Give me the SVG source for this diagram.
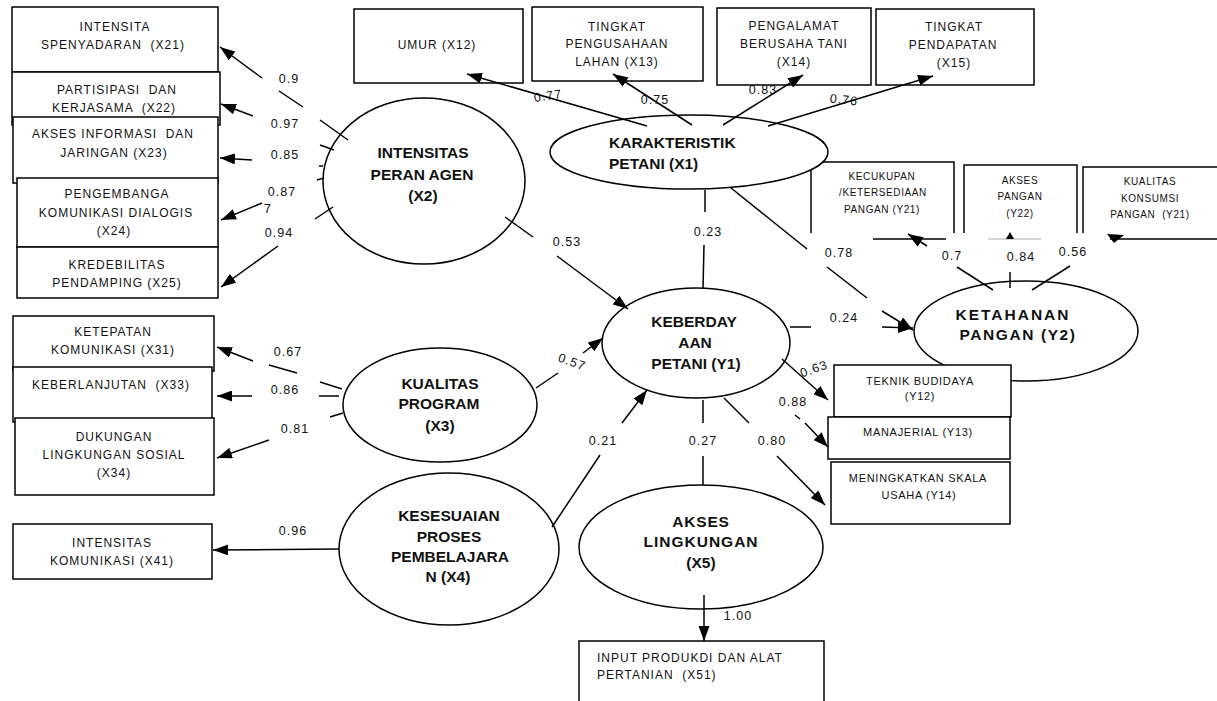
<svg xmlns="http://www.w3.org/2000/svg" width="1217" height="701" viewBox="0 0 1217 701">
<defs>
<marker id="ah" markerUnits="userSpaceOnUse" markerWidth="15" markerHeight="11" refX="15" refY="5.5" orient="auto" viewBox="0 0 15 11">
<path d="M0,0 L15,5.5 L0,11 z" fill="#000"/>
</marker>
</defs>
<style>
text { white-space: pre; font-family: "Liberation Sans", Arial, sans-serif; fill: #111; }
.box { fill: #fff; stroke: #000; stroke-width: 1.5; }
.ell { fill: #fff; stroke: #000; stroke-width: 1.5; }
.open { fill: none; stroke: #000; stroke-width: 1.5; }
.ln { stroke: #000; stroke-width: 1.5; fill: none; }
.arr { marker-end: url(#ah); }
.t { font-size: 12px; letter-spacing: 1px; text-anchor: middle; }
.tm { font-size: 11px; letter-spacing: 0.7px; text-anchor: middle; }
.ts { font-size: 10px; letter-spacing: 0.6px; text-anchor: middle; }
.b { font-size: 15.5px; font-weight: bold; text-anchor: middle; }
.lbl { font-size: 12.5px; letter-spacing: 1px; text-anchor: middle; }
</style>
<rect width="1217" height="701" fill="#fff"/>

<g id="nodes">
<g id="X21"><rect class="box" x="12" y="7" width="206" height="65"/>
<text class="t" x="115" y="31">INTENSITA</text><text class="t" x="113" y="49">SPENYADARAN  (X21)</text></g>
<g id="X22"><rect class="box" x="12" y="72" width="208" height="53"/>
<text class="t" x="117" y="94">PARTISIPASI  DAN</text><text class="t" x="114" y="112">KERJASAMA  (X22)</text></g>
<g id="X23"><rect class="box" x="13" y="117" width="205" height="66"/>
<text class="t" x="113" y="138">AKSES INFORMASI  DAN</text><text class="t" x="114" y="157">JARINGAN (X23)</text></g>
<g id="X24"><rect class="box" x="17" y="178" width="201" height="69"/>
<text class="t" x="117" y="198">PENGEMBANGA</text><text class="t" x="116" y="217">KOMUNIKASI DIALOGIS</text><text class="t" x="114" y="235">(X24)</text></g>
<g id="X25"><rect class="box" x="17" y="247" width="201" height="51"/>
<text class="t" x="117" y="269">KREDEBILITAS</text><text class="t" x="117" y="287">PENDAMPING (X25)</text></g>

<g id="X12"><rect class="box" x="354" y="9" width="169" height="74"/>
<text class="t" x="437" y="49">UMUR (X12)</text></g>
<g id="X13"><rect class="box" x="532" y="7" width="171" height="74"/>
<text class="t" x="617" y="31">TINGKAT</text><text class="t" x="617" y="48">PENGUSAHAAN</text><text class="t" x="617" y="66">LAHAN (X13)</text></g>
<g id="X14"><rect class="box" x="717" y="8" width="154" height="77"/>
<text class="t" x="794" y="30">PENGALAMAT</text><text class="t" x="794" y="48">BERUSAHA TANI</text><text class="t" x="794" y="66">(X14)</text></g>
<g id="X15"><rect class="box" x="876" y="9" width="158" height="76"/>
<text class="t" x="954" y="31">TINGKAT</text><text class="t" x="953" y="49">PENDAPATAN</text><text class="t" x="954" y="67">(X15)</text></g>

<g id="Y21a"><path class="open" d="M811,233 V162 H954 V233"/>
<text class="ts" x="882" y="180">KECUKUPAN</text><text class="ts" x="883" y="196">/KETERSEDIAAN</text><text class="ts" x="882" y="213">PANGAN (Y21)</text></g>
<g id="Y22"><path class="open" d="M964,233 V165 H1077 V233"/>
<text class="ts" x="1020" y="184">AKSES</text><text class="ts" x="1020" y="200">PANGAN</text><text class="ts" x="1020" y="217">(Y22)</text></g>
<g id="Y21b"><path class="open" d="M1083,233 V167 H1217"/>
<text class="ts" x="1150" y="185">KUALITAS</text><text class="ts" x="1150" y="202">KONSUMSI</text><text class="ts" x="1150" y="218">PANGAN  (Y21)</text></g>

<g id="X2"><ellipse class="ell" cx="424" cy="181" rx="101" ry="83"/>
<text class="b" x="423" y="158">INTENSITAS</text><text class="b" x="422" y="180">PERAN AGEN</text><text class="b" x="423" y="201">(X2)</text></g>
<g id="X1"><ellipse class="ell" cx="689" cy="152" rx="139" ry="37"/>
<text class="b" x="609" y="148" style="text-anchor:start">KARAKTERISTIK</text><text class="b" x="609" y="169" style="text-anchor:start">PETANI (X1)</text></g>
<g id="Y1"><ellipse class="ell" cx="696" cy="343" rx="94" ry="55"/>
<text class="b" x="694" y="327">KEBERDAY</text><text class="b" x="695" y="348">AAN</text><text class="b" x="696" y="369">PETANI (Y1)</text></g>
<g id="Y2"><ellipse class="ell" cx="1026" cy="331" rx="112" ry="50"/>
<text class="b" x="1013" y="320" style="letter-spacing:2px">KETAHANAN</text><text class="b" x="1018" y="340" style="letter-spacing:1.6px">PANGAN (Y2)</text></g>
<g id="X3"><ellipse class="ell" cx="440" cy="405" rx="97" ry="57"/>
<text class="b" x="440" y="389">KUALITAS</text><text class="b" x="439" y="409">PROGRAM</text><text class="b" x="440" y="431">(X3)</text></g>
<g id="X4"><ellipse class="ell" cx="449" cy="549" rx="110" ry="76"/>
<text class="b" x="449" y="521">KESESUAIAN</text><text class="b" x="449" y="542">PROSES</text><text class="b" x="450" y="562">PEMBELAJARA</text><text class="b" x="448" y="582">N (X4)</text></g>
<g id="X5"><ellipse class="ell" cx="701" cy="547" rx="122" ry="62"/>
<text class="b" x="701" y="527" style="letter-spacing:0.8px">AKSES</text><text class="b" x="701" y="547" style="letter-spacing:1px">LINGKUNGAN</text><text class="b" x="701" y="568">(X5)</text></g>

<g id="Y12"><rect class="box" x="834" y="365" width="177" height="52"/>
<text class="tm" x="920" y="385">TEKNIK BUDIDAYA</text><text class="tm" x="920" y="400">(Y12)</text></g>
<g id="Y13"><rect class="box" x="828" y="417" width="182" height="42"/>
<text class="tm" x="918" y="436">MANAJERIAL (Y13)</text></g>
<g id="Y14"><rect class="box" x="831" y="462" width="179" height="62"/>
<text class="tm" x="918" y="482">MENINGKATKAN SKALA</text><text class="tm" x="919" y="499">USAHA (Y14)</text></g>

<g id="X31"><rect class="box" x="13" y="316" width="201" height="55"/>
<text class="t" x="113" y="336">KETEPATAN</text><text class="t" x="113" y="354">KOMUNIKASI (X31)</text></g>
<g id="X33"><rect class="box" x="13" y="367" width="199" height="55"/>
<text class="t" x="111" y="389">KEBERLANJUTAN  (X33)</text></g>
<g id="X34"><rect class="box" x="15" y="418" width="199" height="77"/>
<text class="t" x="114" y="441">DUKUNGAN</text><text class="t" x="114" y="459">LINGKUNGAN SOSIAL</text><text class="t" x="114" y="477">(X34)</text></g>
<g id="X41"><rect class="box" x="13" y="524" width="199" height="55"/>
<text class="t" x="112" y="547">INTENSITAS</text><text class="t" x="112" y="565">KOMUNIKASI (X41)</text></g>
<g id="X51"><rect class="box" x="579" y="641" width="245" height="64"/>
<text class="t" x="597" y="662" style="text-anchor:start">INPUT PRODUKDI DAN ALAT</text><text class="t" x="597" y="679" style="text-anchor:start">PERTANIAN  (X51)</text></g>
</g>

<g id="connectors">
<line class="ln arr" x1="262" y1="78" x2="220" y2="47"/>
<line class="ln" x1="279" y1="91" x2="303" y2="107"/>
<line class="ln" x1="320" y1="120" x2="348" y2="140"/>
<line class="ln arr" x1="253" y1="116" x2="221" y2="104"/>
<line class="ln" x1="320" y1="145" x2="334" y2="150"/>
<line class="ln arr" x1="252" y1="160" x2="220" y2="158"/>
<line class="ln" x1="319" y1="166" x2="323" y2="166"/>
<line class="ln" x1="317" y1="180" x2="324" y2="178"/>
<line class="ln arr" x1="262" y1="203" x2="221" y2="220"/>
<line class="ln" x1="315" y1="219" x2="333" y2="207"/>
<line class="ln arr" x1="278" y1="246" x2="221" y2="287"/>

<line class="ln arr" x1="647" y1="126" x2="467" y2="74"/>
<line class="ln arr" x1="692" y1="125" x2="613" y2="74"/>
<line class="ln arr" x1="723" y1="125" x2="803" y2="75"/>
<line class="ln arr" x1="768" y1="126" x2="933" y2="76"/>
<line class="ln" x1="705" y1="190" x2="705" y2="212"/>
<line class="ln" x1="704" y1="245" x2="703" y2="289"/>
<line class="ln" x1="731" y1="188" x2="807" y2="249"/>
<line class="ln" x1="827" y1="267" x2="867" y2="298"/>
<line class="ln arr" x1="882" y1="311" x2="913" y2="330"/>

<line class="ln" x1="790" y1="327" x2="811" y2="327"/>
<line class="ln arr" x1="882" y1="327" x2="913" y2="328"/>

<line class="ln" x1="873" y1="239" x2="946" y2="239"/>
<line x1="988" y1="239" x2="1041" y2="239" stroke="#aaa" stroke-width="1"/>
<line class="ln" x1="1110" y1="239" x2="1217" y2="239"/>
<line class="ln" x1="993" y1="290" x2="957" y2="267"/>
<line class="ln arr" x1="927" y1="246" x2="908" y2="234"/>
<line class="ln" x1="1010" y1="288" x2="1010" y2="272"/>
<polygon points="1006,239 1014,239 1010,232" fill="#000"/>
<line class="ln" x1="1032" y1="290" x2="1070" y2="266"/>
<polygon points="1107,234 1124,235 1114,243" fill="#000"/>

<line class="ln arr" x1="782" y1="359" x2="828" y2="400"/>
<line class="ln" x1="795" y1="415" x2="800" y2="419"/>
<line class="ln arr" x1="805" y1="423" x2="828" y2="447"/>
<line class="ln" x1="724" y1="398" x2="749" y2="423"/>
<line class="ln arr" x1="777" y1="456" x2="825" y2="505"/>
<line class="ln" x1="703" y1="400" x2="703" y2="423"/>
<line class="ln" x1="703" y1="456" x2="703" y2="485"/>

<line class="ln" x1="552" y1="527" x2="600" y2="455"/>
<line class="ln arr" x1="622" y1="423" x2="647" y2="390"/>
<line class="ln arr" x1="704" y1="595" x2="704" y2="641"/>

<line class="ln" x1="505" y1="217" x2="533" y2="237"/>
<line class="ln arr" x1="557" y1="256" x2="628" y2="309"/>
<line class="ln" x1="536" y1="388" x2="558" y2="373"/>
<line class="ln arr" x1="583" y1="353" x2="603" y2="338"/>

<line class="ln arr" x1="253" y1="361" x2="217" y2="347"/>
<line class="ln" x1="269" y1="365" x2="297" y2="373"/>
<line class="ln" x1="320" y1="382" x2="342" y2="389"/>
<line class="ln arr" x1="252" y1="396" x2="217" y2="396"/>
<line class="ln" x1="319" y1="396" x2="339" y2="396"/>
<line class="ln arr" x1="269" y1="440" x2="217" y2="458"/>
<line class="ln" x1="330" y1="417" x2="343" y2="413"/>
<line class="ln arr" x1="339" y1="549" x2="213" y2="550"/>

<g id="labels">
<text class="lbl" x="289" y="83">0.9</text>
<text class="lbl" x="285" y="128">0.97</text>
<text class="lbl" x="285" y="159">0.85</text>
<text class="lbl" x="282" y="196">0.87</text>
<text class="lbl" x="268" y="213">7</text>
<text class="lbl" x="279" y="237">0.94</text>
<text class="lbl" x="548" y="100" transform="rotate(-8 548 96)">0.77</text>
<text class="lbl" x="655" y="104">0.75</text>
<text class="lbl" x="763" y="94">0.83</text>
<text class="lbl" x="844" y="104" transform="rotate(6 844 100)">0.76</text>
<text class="lbl" x="708" y="236">0.23</text>
<text class="lbl" x="567" y="246">0.53</text>
<text class="lbl" x="839" y="257">0.78</text>
<text class="lbl" x="952" y="260">0.7</text>
<text class="lbl" x="1021" y="261">0.84</text>
<text class="lbl" x="1073" y="256">0.56</text>
<text class="lbl" x="844" y="322">0.24</text>
<text class="lbl" x="814" y="373" transform="rotate(-20 814 369)">0.63</text>
<text class="lbl" x="793" y="406">0.88</text>
<text class="lbl" x="572" y="366" transform="rotate(20 572 362)">0.57</text>
<text class="lbl" x="603" y="445">0.21</text>
<text class="lbl" x="703" y="445">0.27</text>
<text class="lbl" x="772" y="445">0.80</text>
<text class="lbl" x="288" y="356">0.67</text>
<text class="lbl" x="285" y="394">0.86</text>
<text class="lbl" x="295" y="433">0.81</text>
<text class="lbl" x="293" y="535">0.96</text>
<text class="lbl" x="738" y="620">1.00</text>
</g>
</g>
</svg>
